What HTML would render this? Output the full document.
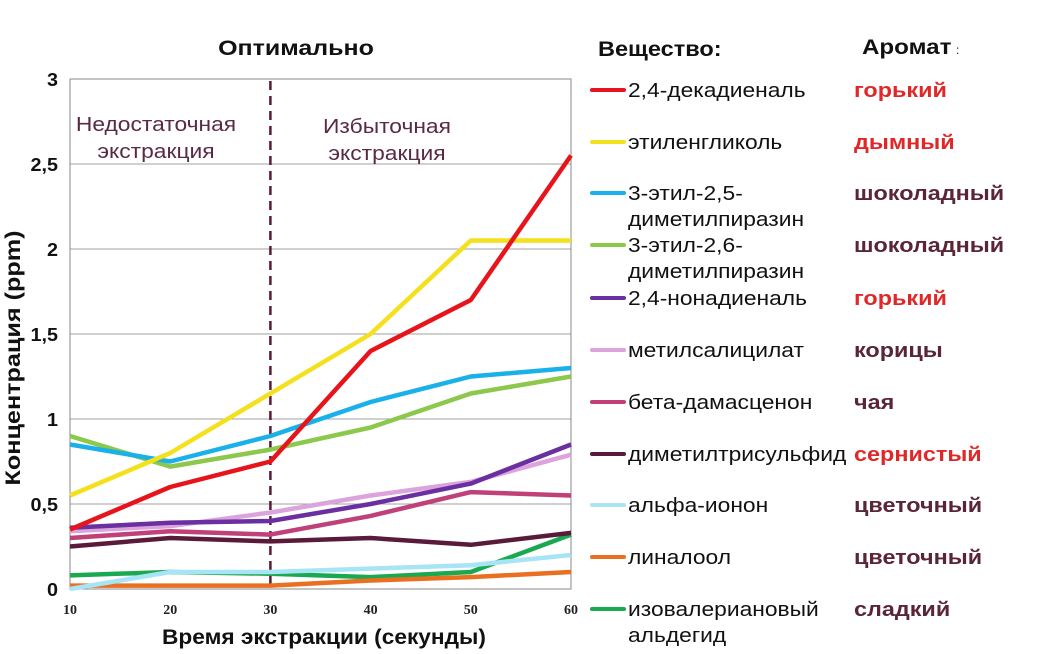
<!DOCTYPE html>
<html><head><meta charset="utf-8"><style>
body{margin:0;background:#fff;width:1037px;height:654px;overflow:hidden}
svg{display:block;font-family:"Liberation Sans",sans-serif}
</style></head><body>
<svg id="c" width="1037" height="654"></svg>
<script>
const categories=[10,20,30,40,50,60];
const yTicks=[0,0.5,1,1.5,2,2.5,3];
const yTickLabels=["0","0,5","1","1,5","2","2,5","3"];
const sDecadienal=[0.35,0.6,0.75,1.4,1.7,2.55];
const sEthyleneGlycol=[0.55,0.8,1.15,1.5,2.05,2.05];
const sPyrazine25=[0.85,0.75,0.9,1.1,1.25,1.3];
const sPyrazine26=[0.9,0.72,0.82,0.95,1.15,1.25];
const sNonadienal=[0.36,0.39,0.4,0.5,0.62,0.85];
const sMethylSalicylate=[0.34,0.37,0.45,0.55,0.63,0.79];
const sDamascenone=[0.3,0.34,0.32,0.43,0.57,0.55];
const sTrisulfide=[0.25,0.3,0.28,0.3,0.26,0.33];
const sIonone=[0.0,0.1,0.1,0.12,0.14,0.2];
const sLinalool=[0.02,0.02,0.02,0.05,0.07,0.1];
const sIsovaleraldehyde=[0.08,0.1,0.09,0.07,0.1,0.32];
const seriesNames=["2,4-декадиеналь","этиленгликоль","3-этил-2,5-|диметилпиразин","3-этил-2,6-|диметилпиразин","2,4-нонадиеналь","метилсалицилат","бета-дамасценон","диметилтрисульфид","альфа-ионон","линалоол","изовалериановый|альдегид"];
const aromas=["горький","дымный","шоколадный","шоколадный","горький","корицы","чая","сернистый","цветочный","цветочный","сладкий"];
const allSeries=[sDecadienal,sEthyleneGlycol,sPyrazine25,sPyrazine26,sNonadienal,sMethylSalicylate,sDamascenone,sTrisulfide,sIonone,sLinalool,sIsovaleraldehyde];
const colors=["#e8141b","#f4e01c","#1ab0ea","#8cc84b","#6a2fa0","#dca4dc","#c0407a","#5a1a3a","#a6e4f6","#e87020","#1aa850"];
const aromaColors=["#e02828","#e02828","#5a2535","#5a2535","#e02828","#5a2535","#5a2535","#e02828","#5a2535","#5a2535","#5a2535"];
const NS="http://www.w3.org/2000/svg";
const svg=document.getElementById('c');
const L=70,R=571,T=79,B=589;
const x=v=>L+(v-10)/50*(R-L);
const y=v=>B-v/3*(B-T);
function mk(tag,attrs,text){const e=document.createElementNS(NS,tag);for(const k in attrs)e.setAttribute(k,attrs[k]);if(text!==undefined)e.textContent=text;svg.appendChild(e);return e;}
function stretch(e,f){const w=e.getComputedTextLength();e.setAttribute('textLength',(w*f).toFixed(1));e.setAttribute('lengthAdjust','spacingAndGlyphs');}
yTicks.forEach((t,i)=>{
 if(t>0&&t<3){const g=mk('line',{x1:L,x2:R,y1:y(t),y2:y(t),stroke:'#a0a0a0','stroke-width':1});
 
 }
 const tl=mk('text',{x:58,y:y(t)+7,'text-anchor':'end','font-size':18,'font-weight':'bold',fill:'#111'},yTickLabels[i]);
 
 
 stretch(tl,1.1);
});
const fr=mk('rect',{x:L,y:T,width:R-L,height:B-T,fill:'none',stroke:'#888','stroke-width':1});


categories.forEach(c=>{
 const t=mk('text',{x:x(c),y:614,'text-anchor':'middle','font-size':14,'font-weight':'bold','font-family':'Liberation Serif,serif',fill:'#222'},String(c));
 
 
});
const dl=mk('line',{x1:x(30),x2:x(30),y1:T+2,y2:B,stroke:'#5a1a3a','stroke-width':2.5,'stroke-dasharray':'9,6'});


[["Недостаточная",156,131],["экстракция",156,158],["Избыточная",387,133],["экстракция",387,160]].forEach(a=>{
 const t=mk('text',{x:a[1],y:a[2],'text-anchor':'middle','font-size':20,fill:'#5a2a45'},a[0]);
 
 
 stretch(t,1.14);
});
const order=[10,9,8,7,6,5,4,3,2,1,0];
order.forEach(i=>{
 const p=mk('polyline',{points:allSeries[i].map((v,j)=>x(categories[j])+','+y(v)).join(' '),fill:'none',stroke:colors[i],'stroke-width':4.5,'stroke-linejoin':'round'});
 
 
});
const tt=mk('text',{x:296,y:55,'text-anchor':'middle','font-size':21,'font-weight':'bold',fill:'#111'},"Оптимально");


stretch(tt,1.19);
const xt=mk('text',{x:324,y:644,'text-anchor':'middle','font-size':21,'font-weight':'bold',fill:'#111'},"Время экстракции (секунды)");


stretch(xt,1.08);
const yt=mk('text',{x:0,y:0,'text-anchor':'middle','font-size':21,'font-weight':'bold',fill:'#111',transform:'translate(20,358) rotate(-90)'},"Концентрация  (ppm)");


stretch(yt,1.2);
const lh=mk('text',{x:598,y:56,'font-size':21,'font-weight':'bold',fill:'#111'},"Вещество:");


stretch(lh,1.12);
const ah=mk('text',{x:862,y:54,'font-size':21,'font-weight':'bold',fill:'#111'},"Аромат");


stretch(ah,1.15);
const ac=mk('text',{x:956,y:54,'font-size':12,fill:'#111'},":");


const rowY=[90,142,193,245,298,350,402,454,505,557,609];
seriesNames.forEach((n,i)=>{
 const ry=rowY[i];
 const ln=mk('line',{x1:592,x2:624,y1:ry,y2:ry,stroke:colors[i],'stroke-width':4,'stroke-linecap':'round'});
 
 
 n.split('|').forEach((part,k)=>{
  const t=mk('text',{x:628,y:ry+7+k*26,'font-size':20,fill:'#111'},part);
  
  
  stretch(t,1.14);
 });
 const a=mk('text',{x:854,y:ry+7,'font-size':20,'font-weight':'bold',fill:aromaColors[i]},aromas[i]);
 
 
 stretch(a,1.17);
});
</script>
</body></html>
